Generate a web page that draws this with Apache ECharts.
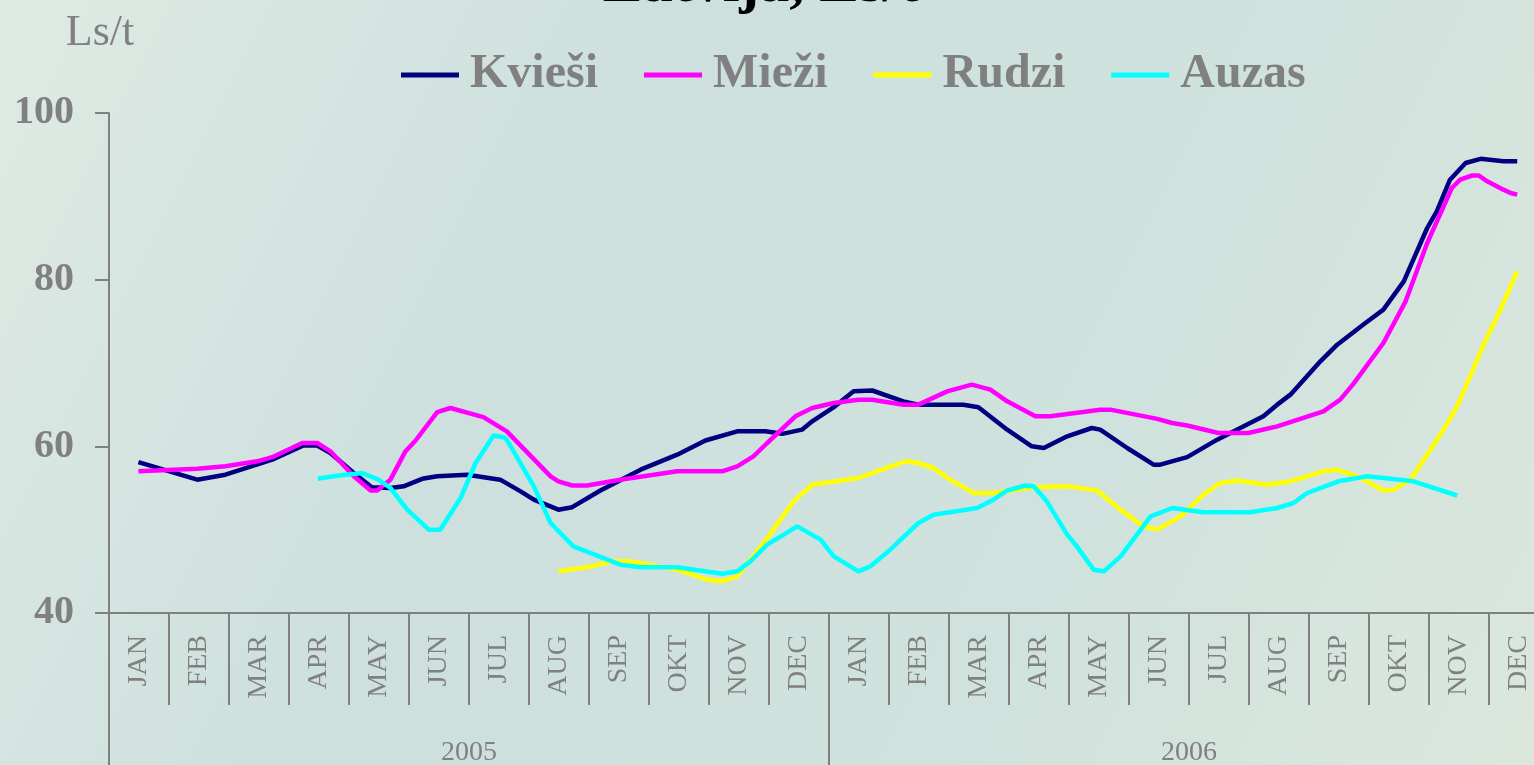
<!DOCTYPE html>
<html>
<head>
<meta charset="utf-8">
<script src="https://cdn.jsdelivr.net/npm/echarts@6/dist/echarts.min.js"></script>
<style>
  html, body { margin: 0; padding: 0; }
  #main { width: 1534px; height: 765px; }
</style>
</head>
<body>
<div id="main"></div>
<script>
// kategorijas
var months = ['JAN', 'FEB', 'MAR', 'APR', 'MAY', 'JUN', 'JUL', 'AUG', 'SEP', 'OKT', 'NOV', 'DEC'];
var monthLabels = months.concat(months);
var years = ['2005', '2006'];
var yTicks = [40, 60, 80, 100];

// [menesis no 2005. gada sakuma, Ls/t]
var kviesi = [
  [0.49, 58.1], [1.47, 56.0], [1.94, 56.6], [2.72, 58.4], [3.24, 60.1], [3.47, 60.1],
  [3.69, 59.2], [4.08, 56.8], [4.38, 55.1], [4.69, 55.0], [4.91, 55.2], [5.22, 56.1],
  [5.47, 56.4], [5.97, 56.6], [6.52, 56.0], [6.86, 54.6], [7.08, 53.6], [7.49, 52.4],
  [7.72, 52.7], [8.19, 54.7], [8.86, 57.2], [9.47, 59.0], [9.94, 60.7], [10.47, 61.8],
  [10.94, 61.8], [11.22, 61.5], [11.55, 62.0], [11.72, 63.0], [12.10, 64.8], [12.41, 66.6],
  [12.72, 66.7], [13.24, 65.4], [13.49, 65.0], [14.24, 65.0], [14.49, 64.7], [14.97, 62.0],
  [15.38, 60.0], [15.58, 59.8], [15.97, 61.2], [16.38, 62.2], [16.52, 62.0], [16.97, 59.8],
  [17.41, 57.8], [17.52, 57.8], [17.97, 58.7], [18.47, 60.8], [19.24, 63.6], [19.47, 65.0],
  [19.69, 66.2], [20.19, 70.2], [20.47, 72.2], [20.94, 74.8], [21.24, 76.4], [21.58, 79.8],
  [21.97, 86.2], [22.13, 88.2], [22.35, 92.0], [22.61, 94.0], [22.86, 94.5], [23.24, 94.2],
  [23.47, 94.2]
];
var miezi = [
  [0.49, 57.0], [1.47, 57.3], [1.94, 57.6], [2.47, 58.2], [2.72, 58.7], [3.22, 60.4],
  [3.47, 60.4], [3.69, 59.4], [4.08, 56.4], [4.36, 54.7], [4.47, 54.7], [4.69, 56.0],
  [4.94, 59.4], [5.11, 60.7], [5.47, 64.1], [5.69, 64.6], [6.24, 63.5], [6.63, 61.8],
  [7.36, 56.4], [7.49, 55.8], [7.72, 55.3], [7.97, 55.3], [8.52, 56.0], [9.47, 57.0],
  [10.22, 57.0], [10.47, 57.6], [10.74, 58.8], [10.97, 60.4], [11.44, 63.6], [11.72, 64.6],
  [12.08, 65.2], [12.49, 65.6], [12.72, 65.6], [13.24, 65.0], [13.49, 65.0], [13.97, 66.6],
  [14.38, 67.4], [14.69, 66.8], [14.97, 65.4], [15.44, 63.6], [15.69, 63.6], [16.52, 64.4],
  [16.69, 64.4], [17.47, 63.3], [17.72, 62.8], [17.97, 62.5], [18.49, 61.6], [18.99, 61.6],
  [19.47, 62.4], [20.24, 64.2], [20.52, 65.6], [20.74, 67.5], [21.24, 72.4], [21.61, 77.4],
  [21.97, 84.4], [22.38, 91.0], [22.52, 92.0], [22.72, 92.5], [22.83, 92.5], [22.97, 91.8],
  [23.24, 90.8], [23.36, 90.4], [23.47, 90.2]
];
var rudzi = [
  [7.49, 45.0], [7.97, 45.5], [8.41, 46.2], [8.69, 46.2], [9.47, 45.2], [9.97, 44.0],
  [10.22, 43.8], [10.47, 44.4], [10.91, 48.4], [11.41, 53.4], [11.72, 55.4], [12.49, 56.2],
  [12.80, 57.0], [13.27, 58.2], [13.49, 58.0], [13.74, 57.4], [14.02, 56.0], [14.41, 54.4],
  [14.74, 54.4], [15.41, 55.1], [15.97, 55.2], [16.47, 54.7], [16.86, 52.4], [17.24, 50.4],
  [17.47, 50.0], [17.86, 51.6], [18.24, 54.2], [18.52, 55.6], [18.80, 55.9], [19.30, 55.4],
  [19.69, 55.8], [20.24, 57.0], [20.47, 57.2], [20.80, 56.4], [21.24, 54.7], [21.41, 54.8],
  [21.69, 56.0], [21.97, 59.0], [22.24, 62.0], [22.47, 64.8], [22.91, 72.2], [23.19, 76.4],
  [23.47, 81.0]
];
var auzas = [
  [3.48, 56.1], [3.74, 56.4], [4.22, 56.8], [4.49, 56.0], [4.69, 55.0], [4.97, 52.4],
  [5.33, 50.0], [5.52, 50.0], [5.86, 53.8], [6.11, 58.0], [6.41, 61.3], [6.58, 61.1],
  [6.63, 60.8], [7.08, 55.2], [7.36, 50.8], [7.74, 48.0], [8.52, 45.8], [8.86, 45.5],
  [9.47, 45.5], [10.22, 44.7], [10.47, 45.0], [10.69, 46.2], [10.97, 48.2], [11.47, 50.4],
  [11.86, 48.8], [12.08, 46.8], [12.49, 45.0], [12.69, 45.6], [12.99, 47.4], [13.49, 50.8],
  [13.74, 51.8], [14.47, 52.6], [14.74, 53.6], [14.97, 54.7], [15.27, 55.3], [15.41, 55.2],
  [15.63, 53.4], [15.97, 49.4], [16.13, 48.0], [16.41, 45.2], [16.58, 45.0], [16.86, 46.8],
  [17.36, 51.6], [17.72, 52.6], [18.24, 52.1], [19.02, 52.1], [19.47, 52.6], [19.74, 53.2],
  [19.97, 54.4], [20.49, 55.8], [20.97, 56.4], [21.52, 56.0], [21.74, 55.8], [22.47, 54.1]
];

var gray = '#808080';
var serif = '"Liberation Serif", "Times New Roman", serif';

function line(name, data, color) {
  return {
    name: name,
    type: 'line',
    xAxisIndex: 0,
    data: data,
    symbol: 'none',
    lineStyle: { color: color, width: 4.5 },
    itemStyle: { color: color },
    z: 3
  };
}

var option = {
  animation: false,
  backgroundColor: {
    type: 'linear', x: 0, y: 0, x2: 1, y2: 1,
    colorStops: [
      { offset: 0, color: '#dfeae3' },
      { offset: 0.35, color: '#cde0de' },
      { offset: 0.7, color: '#d0e2dd' },
      { offset: 1, color: '#dbe7dd' }
    ]
  },
  title: {
    text: 'Latvija, Ls/t',
    left: 756,
    textAlign: 'center',
    top: -50,
    textStyle: { fontFamily: serif, fontWeight: 'bold', fontSize: 60, color: '#000' }
  },
  legend: {
    left: 396,
    top: 46,
    icon: 'rect',
    itemWidth: 58,
    itemHeight: 5,
    itemGap: 46,
    textStyle: { fontFamily: serif, fontWeight: 'bold', fontSize: 48, color: gray, padding: [0, 0, 0, 6] },
    data: ['Kvieši', 'Mieži', 'Rudzi', 'Auzas']
  },
  grid: {
    left: 109, right: -15, top: 113, bottom: 152,
    containLabel: false,
    outerBoundsMode: 'none'
  },
  xAxis: [
    { type: 'value', min: 0, max: 24, show: false },
    {
      type: 'category',
      position: 'bottom',
      data: monthLabels,
      boundaryGap: true,
      axisLine: { show: true, lineStyle: { color: gray, width: 2 } },
      axisTick: { show: true, interval: 0, length: 92, lineStyle: { color: gray, width: 2 } },
      axisLabel: { interval: 0, rotate: 90, margin: 22, fontFamily: serif, fontSize: 28, color: gray },
      splitLine: { show: false }
    },
    {
      type: 'category',
      position: 'bottom',
      data: years,
      boundaryGap: true,
      axisLine: { show: false },
      axisTick: { show: true, interval: 0, length: 170, lineStyle: { color: gray, width: 2 } },
      axisLabel: { interval: 0, margin: 126, fontFamily: serif, fontSize: 28, color: gray },
      splitLine: { show: false }
    }
  ],
  yAxis: {
    type: 'value',
    min: yTicks[0],
    max: yTicks[yTicks.length - 1],
    interval: 20,
    name: 'Ls/t',
    nameLocation: 'end',
    nameGap: 58,
    nameTextStyle: { fontFamily: serif, fontSize: 44, color: gray, align: 'center', padding: [0, 18, 0, 0] },
    axisLine: { show: true, lineStyle: { color: gray, width: 2 } },
    axisTick: { show: true, length: 14, lineStyle: { color: gray, width: 2 } },
    axisLabel: { margin: 35, fontFamily: serif, fontWeight: 'bold', fontSize: 40, color: gray },
    splitLine: { show: false }
  },
  series: [
    line('Kvieši', kviesi, '#000080'),
    line('Mieži', miezi, '#ff00ff'),
    line('Rudzi', rudzi, '#ffff00'),
    line('Auzas', auzas, '#00ffff')
  ]
};

var myChart = echarts.init(document.getElementById('main'));
myChart.setOption(option);
</script>
</body>
</html>
